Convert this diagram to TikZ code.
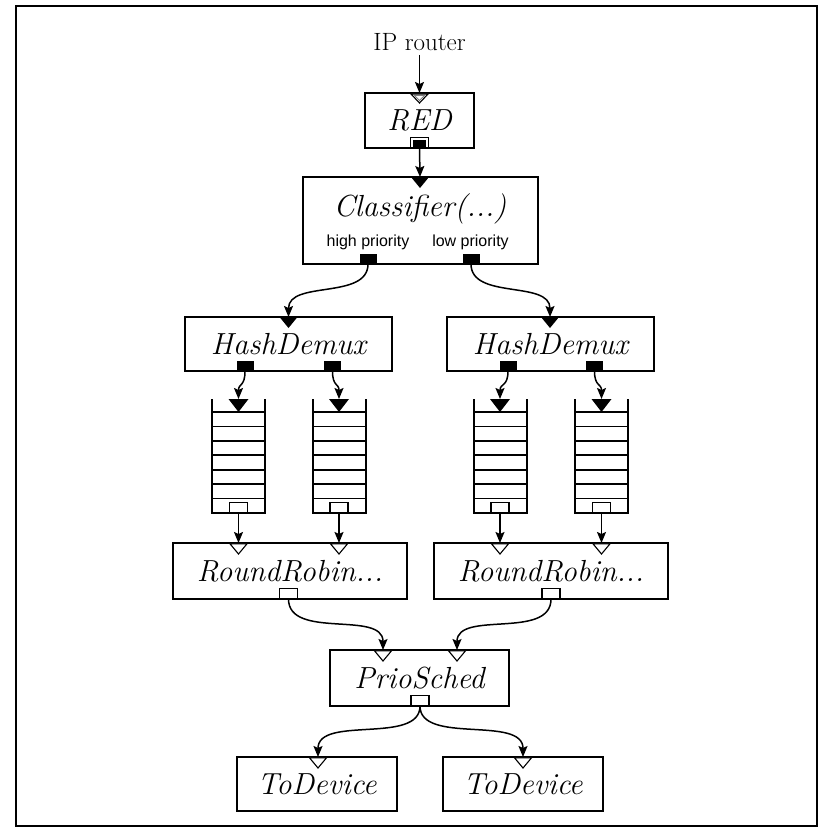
\documentclass[tikz,border=0pt]{standalone}
\usepackage{fontspec}
\newfontfamily\portlabelfont{Liberation Sans}
\usetikzlibrary{arrows.meta}
\begin{document}
\begin{tikzpicture}[x=1pt,y=-1pt,
  element/.style={draw, line width=2.2pt, fill=white, inner sep=0pt,
    font=\fontsize{30.5}{34}\selectfont\itshape},
  eltitle/.style={inner sep=0pt, font=\fontsize{30.5}{34}\selectfont\itshape},
  portlabel/.style={inner sep=0pt, font=\portlabelfont\fontsize{16}{18}\selectfont},
  wire/.style={line width=1.5pt, -{Stealth[length=11pt,width=9pt,inset=2pt]}},
  pullport/.style={draw, fill=white, line width=1.1pt},
  qline/.style={line width=1.6pt},
  qwall/.style={line width=2pt},
  queue/.pic={
    \coordinate (-in) at (0,0);
    \coordinate (-out) at (0,114);
    \foreach \k in {0,...,6}
      \draw[qline] (-26.5,13+\k*14.43) -- (26.5,13+\k*14.43);
    \draw[qwall] (-26.5,0) -- (-26.5,114) -- (26.5,114) -- (26.5,0);
    \fill (-10,0) -- (10,0) -- (0,13) -- cycle;
    \draw[pullport] (-9,103.5) rectangle (9,114);
  },
  pushin/.pic={\fill (-9,0) -- (9,0) -- (0,11) -- cycle;},
  pullin/.pic={\draw[line width=1.1pt, fill=white, line join=miter]
      (-8.5,0.8) -- (8.5,0.8) -- (0,11) -- cycle;},
  pushout/.pic={\fill (-8.5,-9) rectangle (8.5,0);},
  pullout/.pic={\draw[pullport] (-9,-10.5) rectangle (9,-0.5);},
]
\useasboundingbox (0,0) rectangle (819,829);
\draw[line width=2.2pt] (16,6) rectangle (817,826);

% ---------- elements ----------
\node[inner sep=0pt, font=\fontsize{25}{28}\selectfont] (ip) at (419.5,42) {IP router};

\node[element, minimum width=109pt, minimum height=55pt] (red) at (419.5,120.5) {RED};
\node[element, minimum width=235pt, minimum height=87pt] (cls) at (420.5,220.5) {};
\node[eltitle] (cls-title) at (420,209) {Classifier(...)};
\node[portlabel] (cls-hp-label) at (368,242) {high priority};
\node[portlabel] (cls-lp-label) at (470.5,242) {low priority};

\node[element, minimum width=207pt, minimum height=54pt] (hdl) at (288.5,344) {HashDemux};
\node[element, minimum width=207pt, minimum height=54pt] (hdr) at (550.5,344) {HashDemux};

\pic (q1) at (238.5,399) {queue};
\pic (q2) at (339,399) {queue};
\pic (q3) at (500,399) {queue};
\pic (q4) at (601.5,399) {queue};

\node[element, minimum width=234pt, minimum height=56pt] (rrl) at (290,571) {RoundRobin...};
\node[element, minimum width=234pt, minimum height=56pt] (rrr) at (551,571) {RoundRobin...};

\node[element, minimum width=179pt, minimum height=56pt] (ps) at (419.5,678) {PrioSched};

\node[element, minimum width=160pt, minimum height=54pt] (tdl) at (317,784) {ToDevice};
\node[element, minimum width=160pt, minimum height=54pt] (tdr) at (523,784) {ToDevice};

% ---------- ports ----------
% RED: agnostic ports
\coordinate (red-in) at (419.5,93);
\coordinate (red-out) at (419.5,148);
\draw[line width=1.1pt, fill=white, line join=miter] (411,94) -- (428,94) -- (419.5,103) -- cycle;
\draw[line width=0.8pt, gray] (414.5,95.5) -- (424.5,95.5) -- (419.5,100.5) -- cycle;
\draw[line width=1.1pt, fill=white] (410.5,137.5) rectangle (428.5,147.5);
\fill (413,140) rectangle (426,147.5);

% Classifier
\coordinate (cls-in) at (420,177);
\coordinate (cls-hp) at (368,264);
\coordinate (cls-lp) at (471,264);
\pic at (cls-in) {pushin};
\pic at ([yshift=1pt]cls-hp) {pushout};
\pic at ([yshift=1pt]cls-lp) {pushout};

% HashDemux
\coordinate (hdl-in) at (288.5,317);
\coordinate (hdl-o1) at (245,371);
\coordinate (hdl-o2) at (332.5,371);
\coordinate (hdr-in) at (550,317);
\coordinate (hdr-o1) at (508,371);
\coordinate (hdr-o2) at (594.5,371);
\foreach \p in {hdl-in,hdr-in} \pic at (\p) {pushin};
\foreach \p in {hdl-o1,hdl-o2,hdr-o1,hdr-o2} \pic at ([yshift=1pt]\p) {pushout};

% RoundRobin
\coordinate (rrl-i1) at (238.5,543);
\coordinate (rrl-i2) at (339,543);
\coordinate (rrl-out) at (288.5,599);
\coordinate (rrr-i1) at (500,543);
\coordinate (rrr-i2) at (601.5,543);
\coordinate (rrr-out) at (551,599);
\foreach \p in {rrl-i1,rrl-i2,rrr-i1,rrr-i2} \pic at (\p) {pullin};
\foreach \p in {rrl-out,rrr-out} \pic at (\p) {pullout};

% PrioSched
\coordinate (ps-i1) at (383,650);
\coordinate (ps-i2) at (457,650);
\coordinate (ps-out) at (420,706);
\foreach \p in {ps-i1,ps-i2} \pic at (\p) {pullin};
\pic at (ps-out) {pullout};

% ToDevice
\coordinate (tdl-in) at (318,757);
\coordinate (tdr-in) at (523,757);
\foreach \p in {tdl-in,tdr-in} \pic at (\p) {pullin};

% ---------- connections ----------
\draw[wire] ([yshift=-4pt]ip.south) -- (red-in);
\draw[wire] (red-out) -- (cls-in);
\draw[wire] (cls-hp) .. controls (368,300) and (288.5,280) .. (hdl-in);
\draw[wire] (cls-lp) .. controls (471,300) and (550,280) .. (hdr-in);

\draw[wire] (hdl-o1) .. controls (245,387) and (238.5,383) .. (q1-in);
\draw[wire] (hdl-o2) .. controls (332.5,387) and (339,383) .. (q2-in);
\draw[wire] (hdr-o1) .. controls (508,387) and (500,383) .. (q3-in);
\draw[wire] (hdr-o2) .. controls (594.5,387) and (601.5,383) .. (q4-in);

\draw[wire] (q1-out) -- (rrl-i1);
\draw[wire] (q2-out) -- (rrl-i2);
\draw[wire] (q3-out) -- (rrr-i1);
\draw[wire] (q4-out) -- (rrr-i2);

\draw[wire] (rrl-out) .. controls (288.5,640) and (383,610) .. (ps-i1);
\draw[wire] (rrr-out) .. controls (551,640) and (457,610) .. (ps-i2);

\draw[wire] (ps-out) .. controls (420,745) and (318,715) .. (tdl-in);
\draw[wire] (ps-out) .. controls (420,745) and (523,715) .. (tdr-in);
\end{tikzpicture}
\end{document}
